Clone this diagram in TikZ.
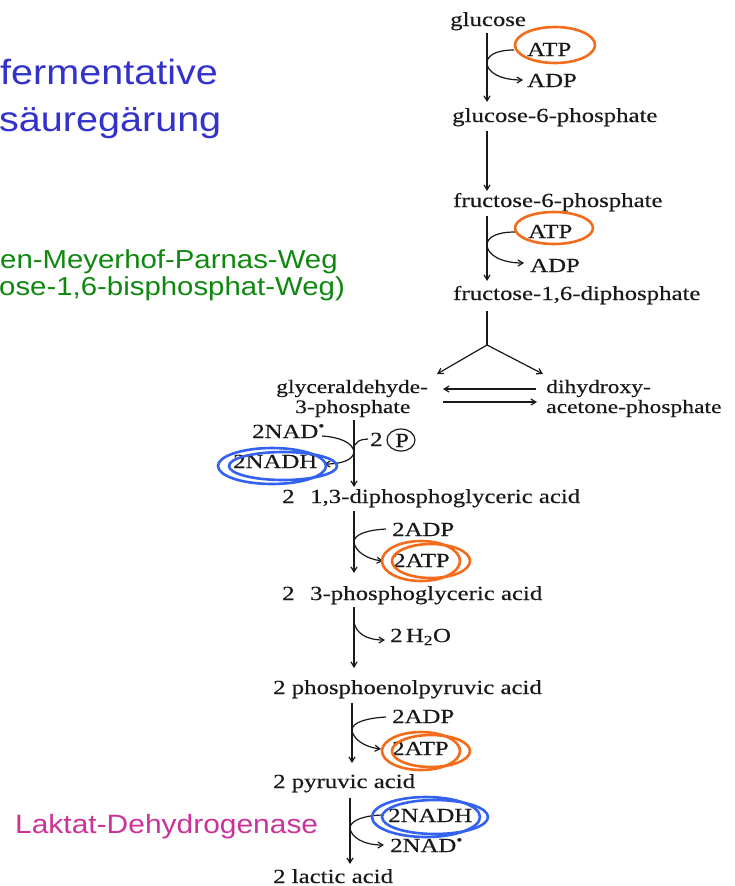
\documentclass[tikz,border=0pt]{standalone}
\usepackage{fontspec}
\setmainfont{Liberation Serif}
\newfontfamily\pwf[FakeStretch=1.24,FakeBold=0.4]{Liberation Serif}
\newfontfamily\slf[FakeStretch=1.13]{Liberation Sans}
\usetikzlibrary{arrows.meta}
\definecolor{ttlblue}{RGB}{51,51,204}
\definecolor{grn}{RGB}{16,136,16}
\definecolor{mag}{RGB}{204,51,153}
\definecolor{org}{RGB}{242,108,28}
\definecolor{rblue}{RGB}{52,98,240}
\definecolor{ink}{RGB}{25,25,25}
\begin{document}
\begin{tikzpicture}[x=1pt,y=-1pt,
  pw/.style={font={\pwf\fontsize{20}{24}\selectfont}, anchor=base west, inner sep=0pt, text=ink},
  pws/.style={pw, font={\pwf\fontsize{19}{22}\selectfont}},
  ttl/.style={font={\slf\fontsize{35}{40}\selectfont}, anchor=base west, inner sep=0pt, text=ttlblue},
  gtx/.style={font={\slf\fontsize{26}{30}\selectfont}, anchor=base west, inner sep=0pt, text=grn},
  ln/.style={line width=1.2pt, draw=ink},
  arr/.style={ln, -{Straight Barb[length=5pt,width=6pt]}},
  ringo/.style={draw=org, line width=2.6pt},
  ringb/.style={draw=rblue, line width=2.6pt}]
\useasboundingbox (0,0) rectangle (735,886);
\fill[white] (0,0) rectangle (735,886);
\clip (0,0) rectangle (735,886);

% left titles
\node[ttl] (t1) at (0,84) {fermentative};
\node[ttl] (t2) at (-1,131) {säuregärung};
\node[gtx] (g1) at (0,268) {en-Meyerhof-Parnas-Weg};
\node[gtx] (g2) at (-1,295) {ose-1,6-bisphosphat-Weg)};
\node[font={\slf\fontsize{26.5}{30}\selectfont}, anchor=base west, inner sep=0pt, text=mag] (ldh) at (15,833) {Laktat-Dehydrogenase};

% pathway texts
\node[pw] (glc) at (450,26) {glucose};
\node[pw] (atp1) at (527,56) {ATP};
\node[pw] (adp1) at (527,87) {ADP};
\node[pw] (g6p) at (452,122) {glucose-6-phosphate};
\node[pw] (f6p) at (453,207) {fructose-6-phosphate};
\node[pw] (atp2) at (528,238) {ATP};
\node[pw] (adp2) at (530,272) {ADP};
\node[pw] (fbp) at (453,300) {fructose-1,6-diphosphate};
\node[pws] (gap1) at (276,393) {glyceraldehyde-};
\node[pws] (gap2) at (295,413) {3-phosphate};
\node[pws] (dhap1) at (546,393) {dihydroxy-};
\node[pws] (dhap2) at (546,413) {acetone-phosphate};
\node[pw] (nad1) at (252,438) {2NAD\textsuperscript{•}};
\node[pw] (nadh1) at (233,468) {2NADH};
\node[pw] (two1) at (370,446) {2};
\node[pw] (pc) at (395,447) {P};
\node[pw] (n13) at (282,503) {2};
\node[pw] (bpg) at (310,503) {1,3-diphosphoglyceric acid};
\node[pw] (adp3) at (392,536) {2ADP};
\node[pw] (atp3) at (393,567) {2ATP};
\node[pw] (n3) at (282,600) {2};
\node[pw] (pg3) at (310,600) {3-phosphoglyceric acid};
\node[pw] (h2o) at (390,642) {2\,H\textsubscript{2}O};
\node[pw] (pep) at (273,694) {2 phosphoenolpyruvic acid};
\node[pw] (adp4) at (392,723) {2ADP};
\node[pw] (atp4) at (392,755) {2ATP};
\node[pw] (pyr) at (273,788) {2 pyruvic acid};
\node[pw] (nadh2) at (388,822) {2NADH};
\node[pw] (nad2) at (390,852) {2NAD\textsuperscript{•}};
\node[pw] (lac) at (273,883) {2 lactic acid};

% step 1
\coordinate (s1a) at (487,33); \coordinate (s1b) at (487,102);
\draw[arr] (s1a) -- (s1b);
\coordinate (s1i) at (514,50); \coordinate (s1o) at (523,80);
\draw[arr] (s1i) .. controls (497,50) and (487,55) .. (487,63) .. controls (487,72) and (500,80) .. (s1o);
% step 2
\coordinate (s2a) at (487,131); \coordinate (s2b) at (487,191);
\draw[arr] (s2a) -- (s2b);
% step 3
\coordinate (s3a) at (487,216); \coordinate (s3b) at (487,281);
\draw[arr] (s3a) -- (s3b);
\coordinate (s3i) at (515,232); \coordinate (s3o) at (524,263);
\draw[arr] (s3i) .. controls (497,232) and (487,237) .. (487,245) .. controls (487,254) and (500,263) .. (s3o);
% split
\coordinate (spa) at (487,311); \coordinate (spj) at (487,345);
\coordinate (spl) at (437,374); \coordinate (spr) at (543,374);
\draw[ln] (spa) -- (spj);
\draw[arr] (spj) -- (spl);
\draw[arr] (spj) -- (spr);
\coordinate (ia) at (536,389); \coordinate (ib) at (443,389);
\coordinate (ic) at (443,402); \coordinate (id) at (537,402);
\draw[arr] (ia) -- (ib);
\draw[arr] (ic) -- (id);
% NAD step
\coordinate (s4a) at (354,420); \coordinate (s4b) at (354,487);
\draw[arr] (s4a) -- (s4b);
\coordinate (s4i) at (322,436); \coordinate (s4o) at (324,464);
\draw[arr] (s4i) .. controls (338,437) and (353,442) .. (354,452) .. controls (353,460) and (342,464) .. (s4o);
\coordinate (s4p) at (368,439);
\draw[ln] (355,445) .. controls (359,440) .. (s4p);
\draw[ln] (401,440) ellipse [x radius=14, y radius=11];
% ATP step 1
\coordinate (s5a) at (354,511); \coordinate (s5b) at (354,573);
\draw[arr] (s5a) -- (s5b);
\coordinate (s5i) at (386,529); \coordinate (s5o) at (383,561);
\draw[arr] (s5i) .. controls (368,530) and (354,534) .. (354,542) .. controls (355,551) and (366,559) .. (s5o);
% H2O step
\coordinate (s6a) at (354,607); \coordinate (s6b) at (354,668);
\draw[arr] (s6a) -- (s6b);
\coordinate (s6j) at (354,622); \coordinate (s6o) at (385,640);
\draw[arr] (s6j) .. controls (356,633) and (366,640) .. (s6o);
% ATP step 2
\coordinate (s7a) at (352,703); \coordinate (s7b) at (352,763);
\draw[arr] (s7a) -- (s7b);
\coordinate (s7i) at (386,717); \coordinate (s7o) at (381,749);
\draw[arr] (s7i) .. controls (368,718) and (352,722) .. (352,730) .. controls (353,739) and (364,747) .. (s7o);
% LDH step
\coordinate (s8a) at (350,798); \coordinate (s8b) at (350,864);
\draw[arr] (s8a) -- (s8b);
\coordinate (s8i) at (384,815); \coordinate (s8o) at (384,845);
\draw[arr] (s8i) .. controls (366,815) and (350,820) .. (350,828) .. controls (351,837) and (363,845) .. (s8o);

% highlight rings
\draw[ringo] (555,45) ellipse [x radius=40, y radius=18];
\draw[ringo] (554,228) ellipse [x radius=39, y radius=16];
\draw[ringb] (272,466) ellipse [x radius=54, y radius=18];
\draw[ringb] (283,466) ellipse [x radius=54, y radius=14];
\draw[ringo] (421,561) ellipse [x radius=39, y radius=20];
\draw[ringo] (431,561) ellipse [x radius=39, y radius=17];
\draw[ringo] (421,751) ellipse [x radius=39, y radius=19];
\draw[ringo] (431,751) ellipse [x radius=39, y radius=16];
\draw[ringb] (426,817) ellipse [x radius=54, y radius=20];
\draw[ringb] (435,817) ellipse [x radius=53, y radius=17];
\end{tikzpicture}
\end{document}
